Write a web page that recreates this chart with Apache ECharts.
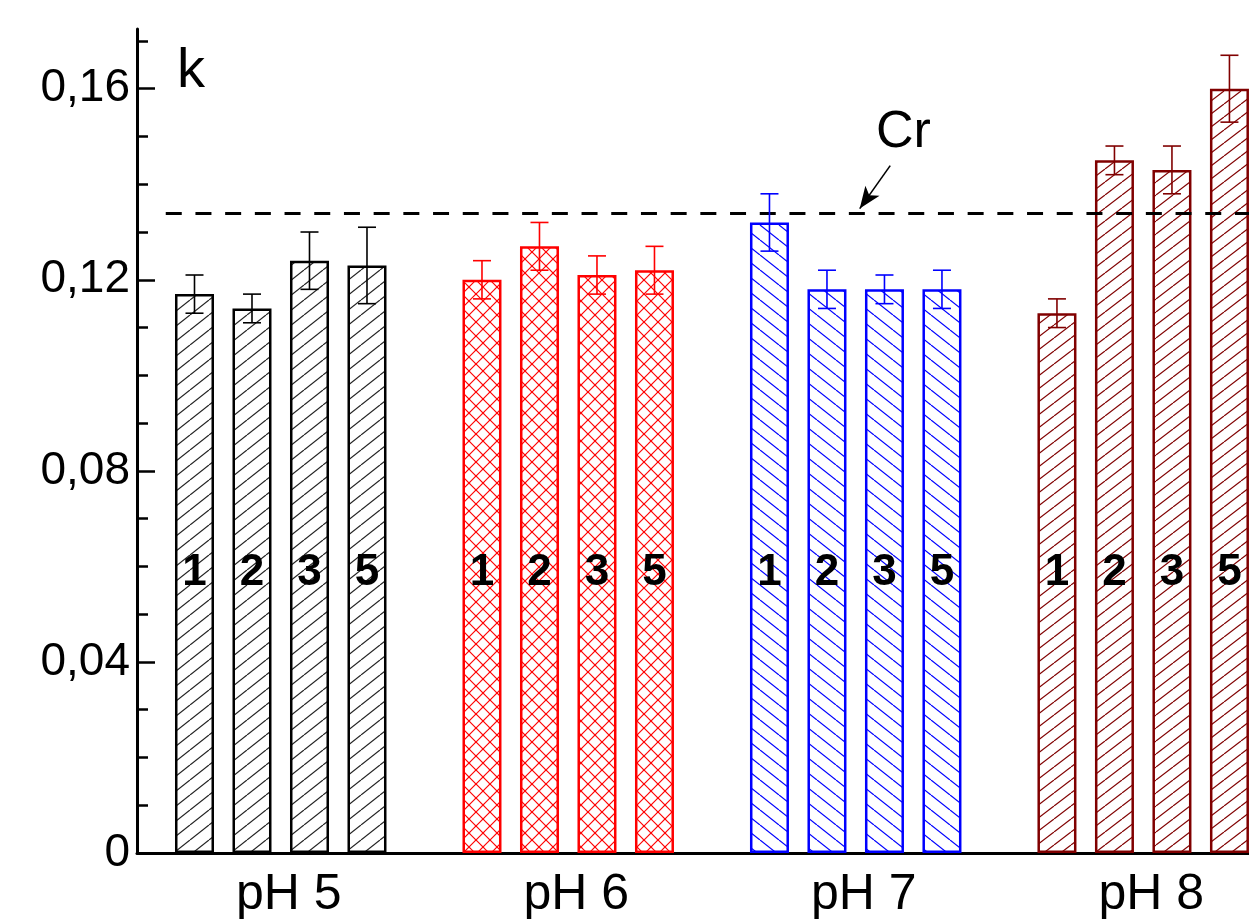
<!DOCTYPE html>
<html>
<head>
<meta charset="utf-8">
<script src="https://cdn.jsdelivr.net/npm/echarts@6/dist/echarts.min.js"></script>
<style>
html,body{margin:0;padding:0;background:#fff;}
#chart{width:1249px;height:924px;}
</style>
</head>
<body>
<div id="chart"></div>
<script>
// ---- data ----
const groups = ['pH 5', 'pH 6', 'pH 7', 'pH 8'];
const samples = ['1', '2', '3', '5'];
const valuesPH5 = [0.117, 0.114, 0.124, 0.123];
const errorsPH5 = [0.004, 0.003, 0.006, 0.008];
const valuesPH6 = [0.120, 0.127, 0.121, 0.122];
const errorsPH6 = [0.004, 0.005, 0.004, 0.005];
const valuesPH7 = [0.132, 0.118, 0.118, 0.118];
const errorsPH7 = [0.006, 0.004, 0.003, 0.004];
const valuesPH8 = [0.113, 0.145, 0.143, 0.160];
const errorsPH8 = [0.003, 0.003, 0.005, 0.007];
const crLevel = 0.134;
const crLabel = 'Cr';
const yLabel = 'k';
const majorTicks = [0, 0.04, 0.08, 0.12, 0.16];
const minorTicks = [0.01, 0.02, 0.03, 0.05, 0.06, 0.07, 0.09, 0.10, 0.11, 0.13, 0.14, 0.15, 0.17];

const FONT = '"Liberation Sans", Arial, sans-serif';

function hatch(color, w, h, mode) {
  const c = document.createElement('canvas');
  c.width = w; c.height = h;
  const g = c.getContext('2d');
  g.fillStyle = '#fff';
  g.fillRect(0, 0, w, h);
  g.strokeStyle = color;
  g.lineWidth = 1.2;
  function fwd() { // "/"
    for (let k = -1; k <= 1; k++) {
      g.beginPath(); g.moveTo(k * w, h); g.lineTo(k * w + w, 0); g.stroke();
    }
  }
  function back() { // "\"
    for (let k = -1; k <= 1; k++) {
      g.beginPath(); g.moveTo(k * w, 0); g.lineTo(k * w + w, h); g.stroke();
    }
  }
  if (mode === 'fwd' || mode === 'cross') fwd();
  if (mode === 'back' || mode === 'cross') back();
  return { image: c, repeat: 'repeat' };
}

const styles = [
  { color: '#000000', fill: hatch('#222', 19, 15, 'fwd') },
  { color: '#ff0000', fill: hatch('#ff0000', 14, 14, 'cross') },
  { color: '#0000ff', fill: hatch('#0000ff', 19, 15, 'back') },
  { color: '#800000', fill: hatch('#800000', 17, 13, 'fwd') }
];
const allValues = [valuesPH5, valuesPH6, valuesPH7, valuesPH8];
const allErrors = [errorsPH5, errorsPH6, errorsPH7, errorsPH8];

// slot layout: 4 bars per group, one empty slot between groups
function xPos(gi, si) { return gi * 5 + 1 + si; }
const groupCenters = groups.map((g, gi) => gi * 5 + 2.5);

const series = [];
allValues.forEach((vals, gi) => {
  series.push({
    type: 'bar',
    name: groups[gi],
    xAxisIndex: 0, yAxisIndex: 0,
    barWidth: 39,
    barGap: '-100%',
    data: vals.map((v, si) => [xPos(gi, si), v]),
    itemStyle: { color: styles[gi].fill, borderColor: styles[gi].color, borderWidth: 2.5 },
    label: {
      show: true, position: 'insideBottom', distance: 258,
      formatter: p => samples[p.dataIndex],
      fontSize: 44, fontWeight: 'bold', fontFamily: FONT, color: '#000',
      textBorderWidth: 0
    },
    emphasis: { disabled: true },
    z: 2
  });
  series.push({
    type: 'custom',
    xAxisIndex: 0, yAxisIndex: 0,
    data: vals.map((v, si) => [xPos(gi, si), v, allErrors[gi][si]]),
    encode: { x: 0, y: 1 },
    renderItem: function (params, api) {
      const x = api.value(0), v = api.value(1), e = api.value(2);
      const t = api.coord([x, v + e]);
      const b = api.coord([x, v - e]);
      const hw = 9;
      const st = { stroke: styles[gi].color, lineWidth: 1.6, fill: null };
      return {
        type: 'group',
        children: [
          { type: 'line', shape: { x1: t[0], y1: t[1], x2: b[0], y2: b[1] }, style: st },
          { type: 'line', shape: { x1: t[0] - hw, y1: t[1], x2: t[0] + hw, y2: t[1] }, style: st },
          { type: 'line', shape: { x1: b[0] - hw, y1: b[1], x2: b[0] + hw, y2: b[1] }, style: st }
        ]
      };
    },
    z: 5,
    silent: true
  });
});

// Cr dashed reference line + arrow annotation
series.push({
  type: 'line',
  xAxisIndex: 0, yAxisIndex: 0,
  data: [],
  silent: true,
  markLine: {
    silent: true,
    symbol: ['none', 'none'],
    label: { show: false },
    data: [
      [{ coord: [0.5, crLevel], lineStyle: { type: [16, 13.7], width: 3, color: '#000' } }, { coord: [19.34, crLevel] }],
      [{ coord: [13.1, 0.1439], symbol: 'none', lineStyle: { type: 'solid', width: 1.6, color: '#000' } },
       { coord: [12.57, crLevel + 0.0009], symbol: 'arrow', symbolSize: [13, 22] }]
    ]
  },
  z: 6
});

const chart = echarts.init(document.getElementById('chart'), null, { renderer: 'canvas' });
chart.setOption({
  backgroundColor: '#fff',
  animation: false,
  grid: { left: 137, top: 29, right: 0, height: 824, containLabel: false },
  xAxis: [
    {
      type: 'value', min: 0, max: 19.34,
      axisLine: { show: true, onZero: false, lineStyle: { color: '#000', width: 3 } },
      axisTick: { show: false }, splitLine: { show: false },
      axisLabel: {
        show: true, customValues: groupCenters, showMinLabel: true, showMaxLabel: true,
        formatter: v => groups[Math.round((v - 2.5) / 5)],
        fontSize: 50, color: '#000', fontFamily: FONT, margin: 17, padding: [0, 0, 0, 16]
      }
    }
  ],
  yAxis: [
    {
      type: 'value', min: 0, max: 0.1725, position: 'left',
      axisLine: { show: true, onZero: false, lineStyle: { color: '#000', width: 3 } },
      axisTick: { show: true, inside: true, length: 18, lineStyle: { color: '#000', width: 2.5 }, customValues: majorTicks },
      axisLabel: {
        show: true, customValues: majorTicks, margin: 7,
        fontSize: 46, color: '#000', fontFamily: FONT,
        formatter: v => v === 0 ? '0' : v.toFixed(2).replace('.', ',')
      },
      splitLine: { show: false }
    },
    {
      type: 'value', min: 0, max: 0.1725, position: 'left', offset: 0,
      axisLine: { show: false },
      axisTick: { show: true, inside: true, length: 11, lineStyle: { color: '#000', width: 2.5 }, customValues: minorTicks },
      axisLabel: { show: false },
      splitLine: { show: false }
    }
  ],
  graphic: [
    { type: 'text', left: 177, top: 44, style: { text: yLabel, fontSize: 56, fontFamily: FONT, fill: '#000' } },
    { type: 'text', left: 876, top: 107, style: { text: crLabel, fontSize: 52, fontFamily: FONT, fill: '#000' } }
  ],
  series: series
});
</script>
</body>
</html>
